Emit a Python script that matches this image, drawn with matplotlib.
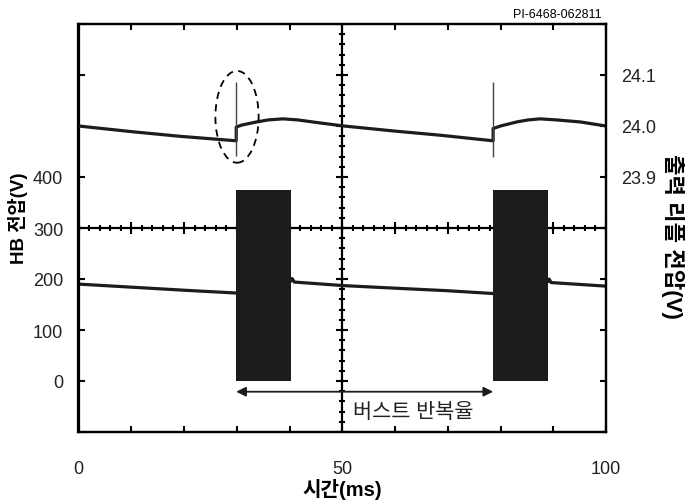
#!/usr/bin/env python3
"""Scope capture: HB voltage burst and output ripple, two burst cycles."""
import matplotlib
matplotlib.use("Agg")
import matplotlib.pyplot as plt
from matplotlib.patches import Ellipse
import numpy as np

plt.rcParams["font.family"] = ["Liberation Sans", "Noto Sans CJK KR"]

# ── data ─────────────────────────────────────────────────────────────────────

# HB node voltage between bursts (V)
HB_T = [0, 10, 20, 29.9, 40.3, 40.5, 40.9, 50.3, 60, 70, 78.6, 89.0, 89.2, 89.6, 100]
HB_V = [190, 184, 178, 172.5, 196, 201, 194, 187, 182, 177, 171.5, 195, 200, 193, 186]

# switching bursts (ms) and their envelope (V)
BURST_START = [29.9, 78.6]
BURST_END = [40.3, 89.0]
BURST_TOP = 375

# output ripple (V)
OUT_T = [0, 10, 19, 29.9, 29.9, 31, 33.8, 36, 38.8, 41.5, 45.8, 50.3, 60, 68.5,
         78.6, 78.6, 80, 83.1, 85.3, 87.5, 90.5, 95.1, 100]
OUT_V = [24.000, 23.989, 23.980, 23.971, 23.998, 24.002, 24.008, 24.012, 24.014,
         24.012, 24.006, 24.000, 23.990, 23.982, 23.971, 23.995, 24.000, 24.008,
         24.012, 24.014, 24.012, 24.008, 24.000]

# load-step spikes on the output at burst start
SPIKE_T = [29.9, 78.6]
SPIKE_HI = [24.086, 24.086]
SPIKE_LO = [23.941, 23.940]

X_TICKS = [0, 50, 100]
HB_TICKS = [0, 100, 200, 300, 400]
OUT_TICKS = [23.9, 24.0, 24.1]

INK = "#1c1c1c"

# ── figure ───────────────────────────────────────────────────────────────────

fig = plt.figure(figsize=(6.85, 5.02), dpi=100)
ax = fig.add_axes([78.5 / 685, 1 - 433 / 502, 527.5 / 685, 408 / 502])
ax2 = ax.twinx()

ax.set_xlim(0, 100)
ax.set_ylim(-100, 700)
ax2.set_ylim(23.4, 24.2)

# frame: one inward tick per division, labels only where the scope had them
div_x = np.arange(0, 101, 10)
div_hb = np.arange(-100, 701, 100)
div_out = np.linspace(23.4, 24.2, 9)
ax.set_xticks(div_x)
ax.set_xticklabels([str(v) if v in X_TICKS else "" for v in div_x])
ax.set_yticks(div_hb)
ax.set_yticklabels([str(v) if v in HB_TICKS else "" for v in div_hb])
ax2.set_yticks(div_out)
ax2.set_yticklabels([f"{v:.1f}" if any(abs(v - o) < 1e-6 for o in OUT_TICKS) else ""
                     for v in div_out])

ax.tick_params(axis="x", direction="in", length=4, width=1.5, top=True,
               pad=20, labelsize=13, labelcolor="#222222")
ax.tick_params(axis="y", direction="in", length=4, width=1.5, right=False,
               pad=11, labelsize=13, labelcolor="#222222")
ax2.tick_params(axis="y", direction="in", length=4, width=1.5, pad=11,
                labelsize=13, labelcolor="#222222")
for a in (ax, ax2):
    for sp in a.spines.values():
        sp.set_linewidth(1.6)

# centre graticule with fine sub-division ticks
ax.axvline(50, color="black", lw=1.6, zorder=1)
ax.axhline(300, color="black", lw=1.6, zorder=1)
sub_x = np.arange(0, 101, 2)
sub_y = np.arange(-100, 701, 20)
ax.plot(sub_x, np.full_like(sub_x, 300), ls="none", marker="|", ms=4,
        mew=1.5, color="black", zorder=1)
ax.plot(div_x, np.full_like(div_x, 300), ls="none", marker="|", ms=8,
        mew=1.5, color="black", zorder=1)
ax.plot(np.full_like(sub_y, 50), sub_y, ls="none", marker="_", ms=4,
        mew=1.5, color="black", zorder=1)
ax.plot(np.full_like(div_hb, 50), div_hb, ls="none", marker="_", ms=8,
        mew=1.5, color="black", zorder=1)

# HB voltage with the switching bursts
ax.plot(HB_T, HB_V, color=INK, lw=2.3, zorder=2)
ax.bar(BURST_START, BURST_TOP, width=np.subtract(BURST_END, BURST_START),
       bottom=0, align="edge", color=INK, zorder=3)

# output ripple
ax2.plot(OUT_T, OUT_V, color=INK, lw=2.3, zorder=2)
ax2.vlines(SPIKE_T, SPIKE_LO, SPIKE_HI, color="#444444", lw=1.0, zorder=2)
ax2.add_patch(Ellipse((30.05, 24.018), 8.2, 0.18, fill=False, ls=(0, (4, 3)),
                      lw=1.3, color="black", zorder=4))

# burst repetition period
ax.annotate("", xy=(BURST_START[0], -21), xytext=(BURST_START[1], -21),
            arrowprops=dict(arrowstyle="<|-|>", color=INK, lw=1.3,
                            mutation_scale=14, shrinkA=0, shrinkB=0))
ax.text(52.0, -59, "버스트 반복율", fontsize=15, ha="left", va="center",
        color="#222222")

# labels
ax.set_xlabel("시간(ms)", fontsize=14.5, fontweight="bold", labelpad=1)
fig.text(18 / 685, 1 - 218 / 502, "HB 전압(V)", rotation=90, fontsize=13.5,
         fontweight="bold", ha="center", va="center")
fig.text(673 / 685, 1 - 236 / 502, "출력 리플 전압(V)", rotation=270,
         fontsize=16, fontweight="bold", ha="center", va="center")
fig.text(602 / 685, 1 - 15 / 502, "PI-6468-062811", fontsize=9,
         ha="right", va="center")

fig.savefig("out.png", dpi=100)
